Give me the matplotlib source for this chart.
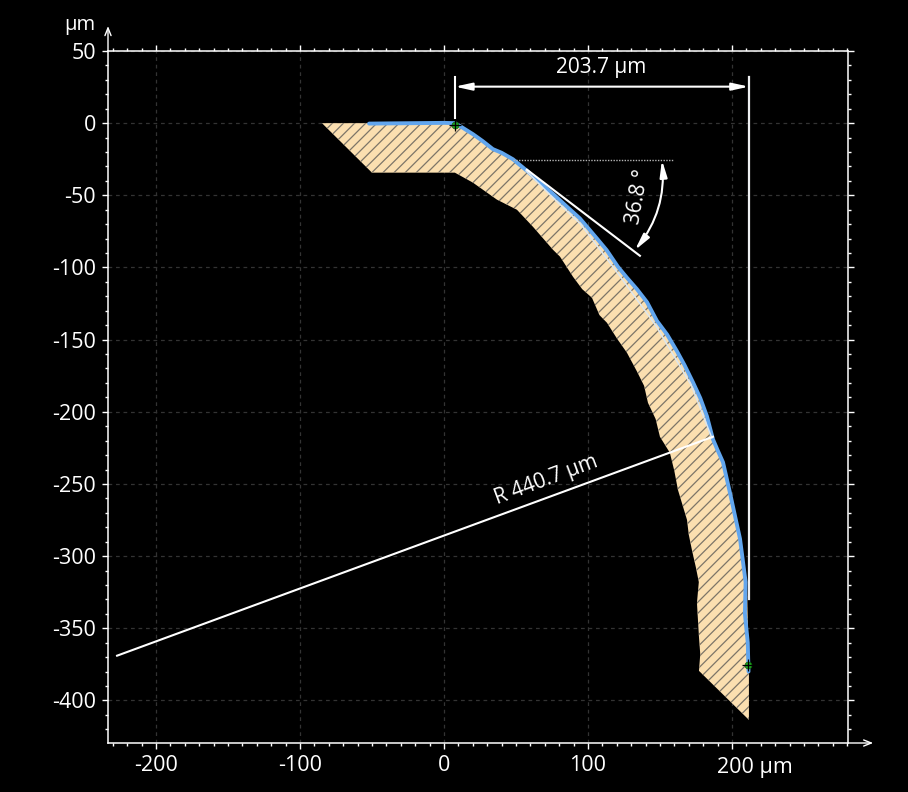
import matplotlib
matplotlib.use("Agg")
import matplotlib.pyplot as plt
from matplotlib.ticker import MultipleLocator, FixedLocator, FixedFormatter

plt.rcParams['font.family'] = ['Open Sans', 'DejaVu Sans']
plt.rcParams['hatch.linewidth'] = 0.9

# Profile outline, micrometres
top_x = [-84.7, 7.6, 11.1, 20.1, 27, 34, 40, 47.9, 57.6, 66, 75.7, 85, 94.4, 106.3, 113, 120.8, 127, 134,
         141, 147.9, 155, 161.8, 167, 172.9, 178, 182.6, 186.8, 190, 193.8, 198.6, 205.6, 210.4, 211.8, 211.8]
top_y = [0, 0, -2.2, -8, -13, -18.4, -21, -25.3, -33.6, -41, -49.6, -58, -66.9, -80.8, -89, -100.2, -108, -115.4,
         -125, -137.6, -147, -158.4, -168, -179.9, -191, -203.5, -219.4, -227, -235.4, -256.2, -288.7, -318.5, -380.9, -413.5]
low_x = [177.1, 178, 177.1, 175.7, 177, 175, 172.2, 170, 168.8, 162.5, 160, 156.9, 150, 147, 141.7, 139, 134, 127.1, 120, 113.2, 108, 102.8,
         96, 89.6, 80.6, 75.7, 62, 50.7, 36.8, 20.1, 7.6, -50]
low_y = [-379.5, -368, -356, -332.4, -318, -308, -295.7, -285, -274.9, -254.1, -241, -228.4, -217.3, -205, -193.8, -182, -172, -159.1, -149, -138.3, -133, -121,
         -115, -106.4, -92.5, -87.7, -72, -60, -53, -41.2, -34.3, -34.3]

# Measured surface
surf_x = [-52, 0, 7.6, 11.1, 20.1, 27, 34, 40, 47.9, 57.6, 66, 75.7, 85, 94.4, 106.3, 113, 120.8, 127, 134,
          141, 147.9, 155, 161.8, 167, 172.9, 178, 182.6, 186.8, 190, 193.8, 198.6, 205.6, 209.5, 209, 211, 211.5]
surf_y = [-0.3, 0.2, 0, -2, -7.6, -12.5, -18, -20.5, -25, -33, -40.5, -49, -57.5, -66, -80, -88, -99.5, -107, -115,
          -124, -137, -146.5, -158, -167.5, -179.5, -190.5, -203, -219, -226.5, -235, -256, -288, -318, -340, -360, -380]
fit_x = [57, 75, 95, 120, 147, 172, 186]
fit_y = [-33, -51, -70, -103, -140, -182, -218]

dim_value = "203.7 µm"
angle_value = "36.8 °"
radius_value = "R 440.7 µm"

x_ticks = [-200, -100, 0, 100]
x_labels = ["-200", "-100", "0", "100"]
y_ticks = [50, 0, -50, -100, -150, -200, -250, -300, -350, -400]
y_labels = ["50", "0", "-50", "-100", "-150", "-200", "-250", "-300", "-350", "-400"]

fig = plt.figure(figsize=(9.08, 7.92), dpi=100, facecolor='black')
ax = fig.add_axes([108/908, 1-743/792, (848-108)/908, (743-51)/792], facecolor='black')
ax.set_xlim(-233.3, 280.6)
ax.set_ylim(-429.5, 50)

for s in ax.spines.values():
    s.set_color('white')
    s.set_linewidth(1.1)

ax.xaxis.set_major_locator(FixedLocator(x_ticks + [200]))
ax.xaxis.set_major_formatter(FixedFormatter(x_labels + [""]))
ax.yaxis.set_major_locator(FixedLocator(y_ticks))
ax.yaxis.set_major_formatter(FixedFormatter(y_labels))
ax.xaxis.set_minor_locator(MultipleLocator(10))
ax.yaxis.set_minor_locator(MultipleLocator(10))
ax.tick_params(which='major', length=4.5, width=1, color='white', labelcolor='white', labelsize=15.5,
               top=True, right=True, direction='out', pad=4)
ax.tick_params(which='minor', length=2, width=1, color='white', top=True, right=True, direction='out')
ax.grid(True, which='major', color='#333333', linestyle=(0, (3, 3)), linewidth=0.9)
ax.set_axisbelow(True)

ax.text(189.6, -439, "200 µm", color='white', fontsize=15.5, ha='left', va='top', clip_on=False)
ax.text(-253, 68, "µm", color='white', fontsize=14.5, ha='center', va='center', clip_on=False)

# axis end arrows
ax.annotate("", xy=(0, 1.036), xytext=(0, 1), xycoords='axes fraction',
            arrowprops=dict(arrowstyle='->,head_length=0.55,head_width=0.22', color='white', lw=1, shrinkA=0, shrinkB=0))
ax.annotate("", xy=(1.034, 0), xytext=(1, 0), xycoords='axes fraction',
            arrowprops=dict(arrowstyle='->,head_length=0.55,head_width=0.22', color='white', lw=1, shrinkA=0, shrinkB=0))

# profile
px = top_x + low_x
py = top_y + low_y
ax.fill(px, py, facecolor='#FBDFB0', edgecolor='none', zorder=2)
ax.fill(px, py, facecolor='none', edgecolor='#7d7568', hatch='///', linewidth=0, zorder=2.1)

ax.plot(surf_x, surf_y, color='#62A6EE', lw=2.8, solid_capstyle='round', solid_joinstyle='round', zorder=3)
ax.plot(fit_x, fit_y, color='#DCE6EE', lw=1.1, zorder=3.2)

# dimension
ax.plot([7.6, 7.6], [32.2, 3.8], color='white', lw=1.5, zorder=4)
ax.plot([211.8, 211.8], [32.2, -330], color='#EEF0F2', lw=1.6, zorder=4)
ax.annotate("", xy=(7.6, 25.3), xytext=(211.8, 25.3),
            arrowprops=dict(arrowstyle='<|-|>,head_length=1.0,head_width=0.22', color='white', lw=1.5,
                            shrinkA=0, shrinkB=0), zorder=4)
ax.text(109, 38.7, dim_value, color='white', fontsize=15, ha='center', va='center', zorder=5)

# angle
ax.plot([47.9, 159], [-25.6, -25.6], color='#B5B5B5', lw=1, linestyle=(0, (1, 1)), zorder=4)
ax.plot([57.6, 136.1], [-32.2, -91.9], color='white', lw=1.5, zorder=4)
ax.annotate("", xy=(151.4, -25.6), xytext=(132.6, -88),
            arrowprops=dict(arrowstyle='<|-|>,head_length=1.0,head_width=0.22', color='white', lw=1.5,
                            shrinkA=0, shrinkB=0, connectionstyle='arc3,rad=0.2'), zorder=4)
ax.text(135, -51, angle_value, color='white', fontsize=15, rotation=80, ha='center', va='center',
        rotation_mode='anchor', zorder=5)

# radius
ax.plot([-227, 186.8], [-369, -217.3], color='white', lw=1.5, zorder=4)
ax.text(71, -247.5, radius_value, color='white', fontsize=15, rotation=20.5, ha='center', va='center',
        rotation_mode='anchor', zorder=5)

# end markers
mark_x = [7.6, 211]
mark_y = [-1.2, -375.5]
ax.plot(mark_x, mark_y, linestyle='none', marker='o', ms=5, mfc='#1FA51F', mec='#0B5E0B', mew=0.5, zorder=6)
ax.plot(mark_x, mark_y, linestyle='none', marker='+', ms=9, mec='black', mew=0.9, zorder=6.1)

fig.savefig('out.png', dpi=100, facecolor='black')
